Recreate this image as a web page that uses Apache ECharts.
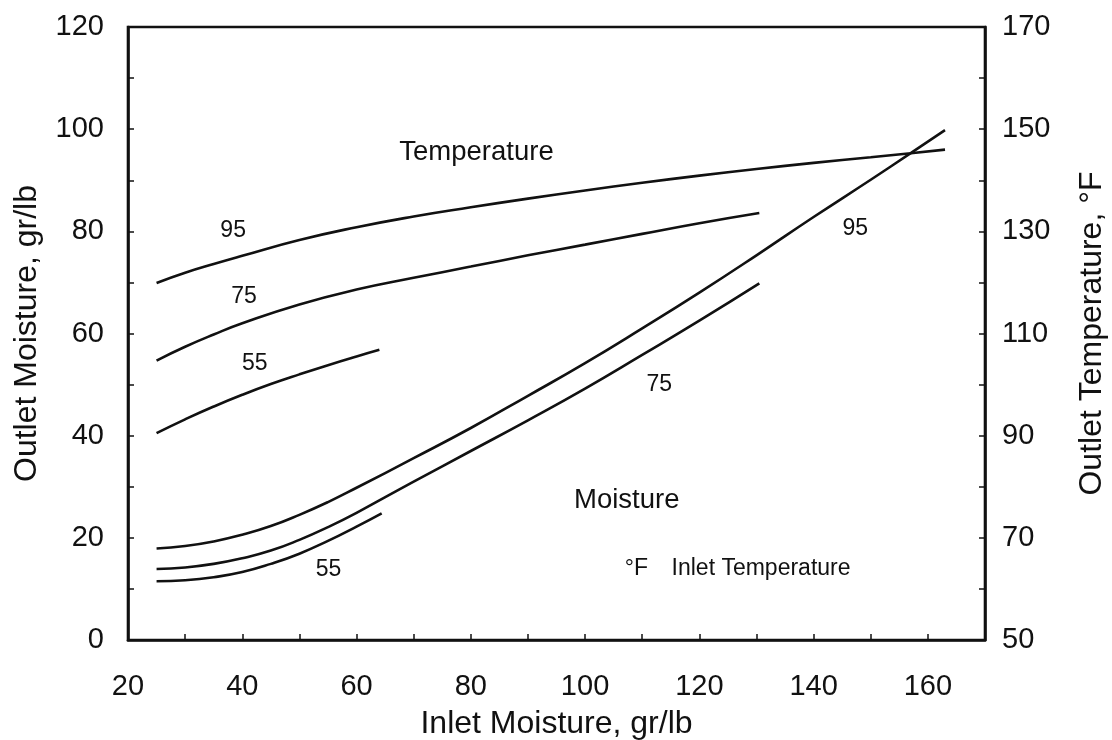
<!DOCTYPE html>
<html>
<head>
<meta charset="utf-8">
<script src="https://cdn.jsdelivr.net/npm/echarts@6/dist/echarts.min.js"></script>
<style>
html,body{margin:0;padding:0;background:#fff}
#chart{width:1112px;height:740px}
</style>
</head>
<body>
<div id="chart"></div>
<script>
// inlet moisture (gr/lb) vs outlet temperature (F, right axis)
var xT95 = [25, 30, 35, 40, 50, 60, 70, 80, 90, 100, 110, 120, 130, 140, 150, 157, 163];
var yT95 = [119.9, 121.9, 123.6, 125.2, 128.3, 130.8, 132.9, 134.7, 136.4, 138.0, 139.5, 140.9, 142.2, 143.4, 144.5, 145.3, 146.0];
var xT75 = [25, 30, 35, 40, 50, 60, 70, 80, 90, 100, 110, 120, 130.5];
var yT75 = [104.7, 107.4, 109.8, 112.0, 115.7, 118.6, 120.9, 123.1, 125.3, 127.4, 129.5, 131.6, 133.6];
var xT55 = [25, 30, 35, 40, 45, 50, 55, 60, 64];
var yT55 = [90.5, 93.2, 95.7, 98.0, 100.1, 102.0, 103.8, 105.5, 106.8];

// inlet moisture vs outlet moisture (gr/lb, left axis)
var xM95 = [25, 30, 35, 40, 45, 50, 55, 60, 70, 80, 90, 100, 110, 120, 130, 140, 150, 157, 163];
var yM95 = [17.9, 18.4, 19.3, 20.6, 22.3, 24.5, 27.0, 29.8, 35.6, 41.5, 47.8, 54.2, 61.0, 68.0, 75.3, 82.8, 90.1, 95.3, 99.8];
var xM75 = [25, 30, 35, 40, 45, 50, 55, 60, 70, 80, 90, 100, 110, 120, 130.5];
var yM75 = [13.9, 14.2, 14.9, 16.0, 17.5, 19.6, 22.1, 24.9, 31.0, 37.0, 43.0, 49.2, 55.8, 62.5, 69.8];
var xM55 = [25, 30, 35, 40, 45, 50, 55, 60, 64.4];
var yM55 = [11.5, 11.7, 12.3, 13.3, 14.9, 16.9, 19.4, 22.2, 24.8];

// text inside the plot, in left-axis coordinates
var noteText = ['Temperature', '95', '75', '55', 'Moisture', '95', '75', '55', '°F', 'Inlet Temperature'];
var noteX = [81, 38.4, 40.3, 42.2, 107.3, 147.3, 113, 55.1, 109, 130.8];
var noteY = [95.4, 80.1, 67.2, 54.1, 27.3, 80.6, 50, 13.7, 14.0, 14.0];

var FONT = "'Liberation Sans', Arial, sans-serif";
var INK = '#111';

function zip(xs, ys) {
    return xs.map(function (x, i) { return [x, ys[i]]; });
}

function curve(name, xs, ys, yIdx) {
    return {
        name: name,
        type: 'line',
        yAxisIndex: yIdx,
        smooth: true,
        showSymbol: false,
        silent: true,
        lineStyle: { color: INK, width: 2.6 },
        data: zip(xs, ys)
    };
}

var notes = noteText.map(function (t, i) {
    var big = (t === 'Temperature' || t === 'Moisture');
    return {
        name: t,
        value: [noteX[i], noteY[i]],
        label: { fontSize: big ? 27.5 : 23 }
    };
});

var tickStyle = { inside: true, length: 6, lineStyle: { color: INK, width: 1.5 } };
var nameStyle = { fontSize: 32, color: INK, fontFamily: FONT };

var option = {
    backgroundColor: '#fff',
    animation: false,
    textStyle: { fontFamily: FONT, color: INK },
    grid: {
        left: 128, right: 127, top: 27, bottom: 100,
        show: true, borderColor: INK, borderWidth: 2.6,
        outerBoundsMode: 'none'
    },
    xAxis: {
        type: 'value', min: 20, max: 170, interval: 10,
        name: 'Inlet Moisture, gr/lb', nameLocation: 'middle', nameGap: 68,
        nameTextStyle: nameStyle,
        axisLine: { lineStyle: { color: INK, width: 2.6 } },
        axisTick: tickStyle,
        splitLine: { show: false },
        axisLabel: {
            fontSize: 29, color: INK, fontFamily: FONT, margin: 32,
            formatter: function (v) { return (v % 20 === 0 && v <= 160) ? String(v) : ''; }
        }
    },
    yAxis: [
        {
            type: 'value', min: 0, max: 120, interval: 10, position: 'left',
            name: 'Outlet Moisture, gr/lb', nameLocation: 'middle', nameGap: 85, nameRotate: 90,
            nameTextStyle: nameStyle,
            axisLine: { show: true, lineStyle: { color: INK, width: 2.6 } },
            axisTick: tickStyle,
            splitLine: { show: false },
            axisLabel: {
                fontSize: 29, color: INK, fontFamily: FONT, margin: 24,
                formatter: function (v) { return v % 20 === 0 ? String(v) : ''; }
            }
        },
        {
            type: 'value', min: 50, max: 170, interval: 10, position: 'right',
            name: 'Outlet Temperature, °F', nameLocation: 'middle', nameGap: 91, nameRotate: 90,
            nameTextStyle: nameStyle,
            axisLine: { show: true, lineStyle: { color: INK, width: 2.6 } },
            axisTick: tickStyle,
            splitLine: { show: false },
            axisLabel: {
                fontSize: 29, color: INK, fontFamily: FONT, margin: 17,
                formatter: function (v) { return (v - 50) % 20 === 0 ? String(v) : ''; }
            }
        }
    ],
    series: [
        curve('T95', xT95, yT95, 1),
        curve('T75', xT75, yT75, 1),
        curve('T55', xT55, yT55, 1),
        curve('M95', xM95, yM95, 0),
        curve('M75', xM75, yM75, 0),
        curve('M55', xM55, yM55, 0),
        {
            name: 'notes',
            type: 'scatter',
            yAxisIndex: 0,
            symbolSize: 0,
            silent: true,
            itemStyle: { opacity: 1 },
            label: {
                show: true, position: 'inside', formatter: '{b}',
                color: INK, fontFamily: FONT, opacity: 1
            },
            data: notes
        }
    ]
};

var chart = echarts.init(document.getElementById('chart'));
chart.setOption(option);
</script>
</body>
</html>
